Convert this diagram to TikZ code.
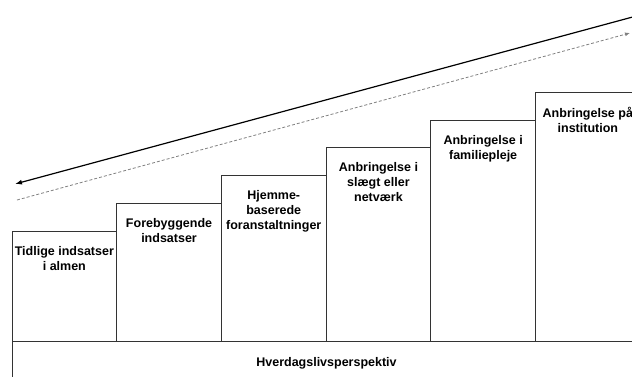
\documentclass[tikz,border=0pt]{standalone}
\usepackage{fontspec}
\setmainfont{Liberation Sans}
\usetikzlibrary{arrows.meta}

\tikzset{
    stepbox/.style={draw=black!80, line width=0.8pt, anchor=south west,
        minimum width=104.7pt, inner sep=0pt, outer sep=0pt},
    steptext/.style={anchor=north, align=center, inner sep=0pt,
        font=\bfseries\fontsize{12.5}{15}\selectfont},
}

\begin{document}
\begin{tikzpicture}[x=1pt,y=-1pt]
    \useasboundingbox (0,0) rectangle (632,376);
    \clip (0,0) rectangle (632,376);

    % base
    \node[draw=black!80, line width=0.8pt, anchor=north west, minimum width=629pt,
        minimum height=44pt, outer sep=0pt, font=\bfseries\fontsize{12.5}{15}\selectfont] (base) at (12,341) {Hverdagslivsperspektiv};

    % steps
    \node[stepbox, minimum height=110pt] (b1) at (12,341) {};
        \node[steptext] (t1) at ([yshift=-15pt]b1.north) {Tidlige indsatser\\i almen};
    \node[stepbox, minimum height=138pt] (b2) at (b1.south east) {};
        \node[steptext] (t2) at ([yshift=-15pt]b2.north) {Forebyggende\\indsatser};
    \node[stepbox, minimum height=166pt] (b3) at (b2.south east) {};
        \node[steptext] (t3) at ([yshift=-15pt]b3.north) {Hjemme-\\baserede\\foranstaltninger};
    \node[stepbox, minimum height=194pt] (b4) at (b3.south east) {};
        \node[steptext] (t4) at ([yshift=-15pt]b4.north) {Anbringelse i\\slægt eller\\netværk};
    \node[stepbox, minimum height=221pt] (b5) at (b4.south east) {};
        \node[steptext] (t5) at ([yshift=-15pt]b5.north) {Anbringelse i\\familiepleje};
    \node[stepbox, minimum height=249pt] (b6) at (b5.south east) {};
        \node[steptext] (t6) at ([yshift=-15pt]b6.north) {Anbringelse på\\institution};

    % arrows
    \coordinate (solidstart) at (640,15);
    \coordinate (solidend) at (15,184);
    \draw[line width=1.2pt, -{Latex[length=7pt,width=5pt]}] (solidstart) -- (solidend);

    \coordinate (dashstart) at (17,200);
    \coordinate (dashend) at (630,33);
    \draw[gray, line width=0.8pt, dash pattern=on 3pt off 2pt,
        -{Latex[length=5pt,width=4pt]}] (dashstart) -- (dashend);
\end{tikzpicture}
\end{document}
